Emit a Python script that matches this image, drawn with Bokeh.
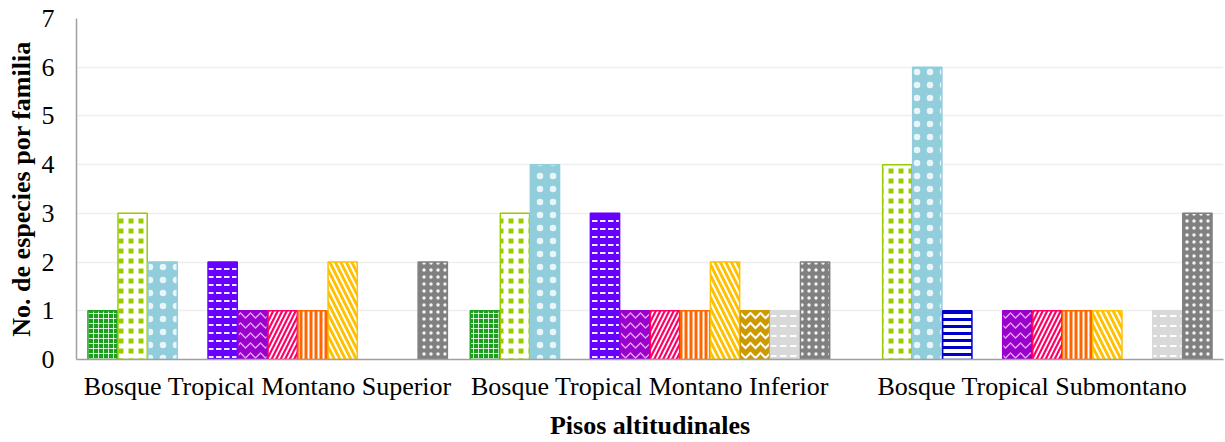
from bokeh.plotting import figure
from bokeh.models import FactorRange, Range1d, ColumnDataSource, FixedTicker
from bokeh.transform import dodge
from bokeh.embed import file_html
from bokeh.resources import INLINE

# ---- data -------------------------------------------------------------
groups = ["Bosque Tropical Montano Superior",
          "Bosque Tropical Montano Inferior",
          "Bosque Tropical Submontano"]

fam01 = [1, 1, 0]
fam02 = [3, 3, 4]
fam03 = [2, 4, 6]
fam04 = [0, 0, 1]
fam05 = [2, 3, 0]
fam06 = [1, 1, 1]
fam07 = [1, 1, 1]
fam08 = [1, 1, 1]
fam09 = [2, 2, 1]
fam10 = [0, 1, 0]
fam11 = [0, 1, 1]
fam12 = [2, 2, 3]

series = [fam01, fam02, fam03, fam04, fam05, fam06,
          fam07, fam08, fam09, fam10, fam11, fam12]

y_ticks = [0, 1, 2, 3, 4, 5, 6, 7]

x_title = "Pisos altitudinales"
y_title = "No. de especies por familia"

# ---- styles -------------------------------------------------------------
styles = [
    dict(fill="#1E9E1E", line="#1E9E1E", hatch="cross", hcol="white", hs=5, hw=1, ha=0.8),
    dict(fill="#99CC00", line="#99CC00", hatch="cross", hcol="white", hs=10, hw=5, ha=1.0),
    dict(fill="#92CDDC", line="#92CDDC", hatch="dot", hcol="white", hs=13, hw=1, ha=0.8),
    dict(fill="white", line="#0000CC", hatch="horizontal_line", hcol="#0000CC", hs=7, hw=3, ha=1.0),
    dict(fill="#6600FF", line="#6600FF", hatch="horizontal_dash", hcol="white", hs=8, hw=2, ha=0.9),
    dict(fill="#9900CC", line="#9900CC", hatch="horizontal_wave", hcol="#E0A0F0", hs=10, hw=1.5, ha=1.0),
    dict(fill="#FF0066", line="#FF0066", hatch="right_diagonal_line", hcol="white", hs=9, hw=1.8, ha=1.0),
    dict(fill="#FF6600", line="#FF6600", hatch="vertical_line", hcol="white", hs=5, hw=2, ha=1.0),
    dict(fill="#FFC000", line="#FFC000", hatch="left_diagonal_line", hcol="white", hs=11, hw=2, ha=1.0),
    dict(fill="#CC9900", line="#CC9900", hatch="horizontal_wave", hcol="white", hs=10, hw=2, ha=1.0),
    dict(fill="#D9D9D9", line="#D9D9D9", hatch="horizontal_dash", hcol="white", hs=10, hw=2, ha=1.0),
    dict(fill="#808080", line="#808080", hatch="dot", hcol="white", hs=7, hw=1, ha=0.9),
]

FONT = "Liberation Serif"

p = figure(x_range=FactorRange(factors=groups, range_padding=0),
           y_range=Range1d(0, 7),
           width=1225, height=442,
           output_backend="svg", toolbar_location=None,
           min_border_left=76, min_border_right=2,
           min_border_top=18, min_border_bottom=83)

bw = 0.0785
n = len(series)
for i, (vals, st) in enumerate(zip(series, styles)):
    xs = [g for g, v in zip(groups, vals) if v > 0]
    ys = [v for v in vals if v > 0]
    src = ColumnDataSource(dict(g=xs, v=ys))
    p.vbar(x=dodge("g", (i - (n - 1) / 2) * bw, range=p.x_range), top="v",
           width=bw - 0.002, source=src,
           fill_color=st["fill"], line_color=st["line"], line_width=1.5,
           hatch_pattern=st["hatch"], hatch_color=st["hcol"],
           hatch_scale=st["hs"], hatch_weight=st["hw"], hatch_alpha=st["ha"])

p.outline_line_color = None
p.xgrid.grid_line_color = None
p.ygrid.grid_line_color = "#EFEFEF"
p.ygrid.grid_line_width = 1.5

p.yaxis.ticker = FixedTicker(ticks=y_ticks)
for ax in (p.xaxis[0], p.yaxis[0]):
    ax.axis_line_color = "#A0A0A0"
    ax.axis_line_width = 1.5
    ax.major_tick_line_color = None
    ax.minor_tick_line_color = None
    ax.major_tick_out = 0
    ax.major_tick_in = 0
    ax.major_label_text_font = FONT
    ax.major_label_text_font_size = "26px"
    ax.major_label_text_color = "black"
    ax.axis_label_text_font = FONT
    ax.axis_label_text_font_size = "26px"
    ax.axis_label_text_font_style = "bold"
    ax.axis_label_text_color = "black"

p.yaxis.axis_label = y_title
p.yaxis.major_label_standoff = 22
p.yaxis.axis_label_standoff = 3

p.xaxis.axis_label = x_title
p.xaxis.major_label_standoff = 12
p.xaxis.axis_label_standoff = 7

open("out.html", "w").write(file_html(p, INLINE))
